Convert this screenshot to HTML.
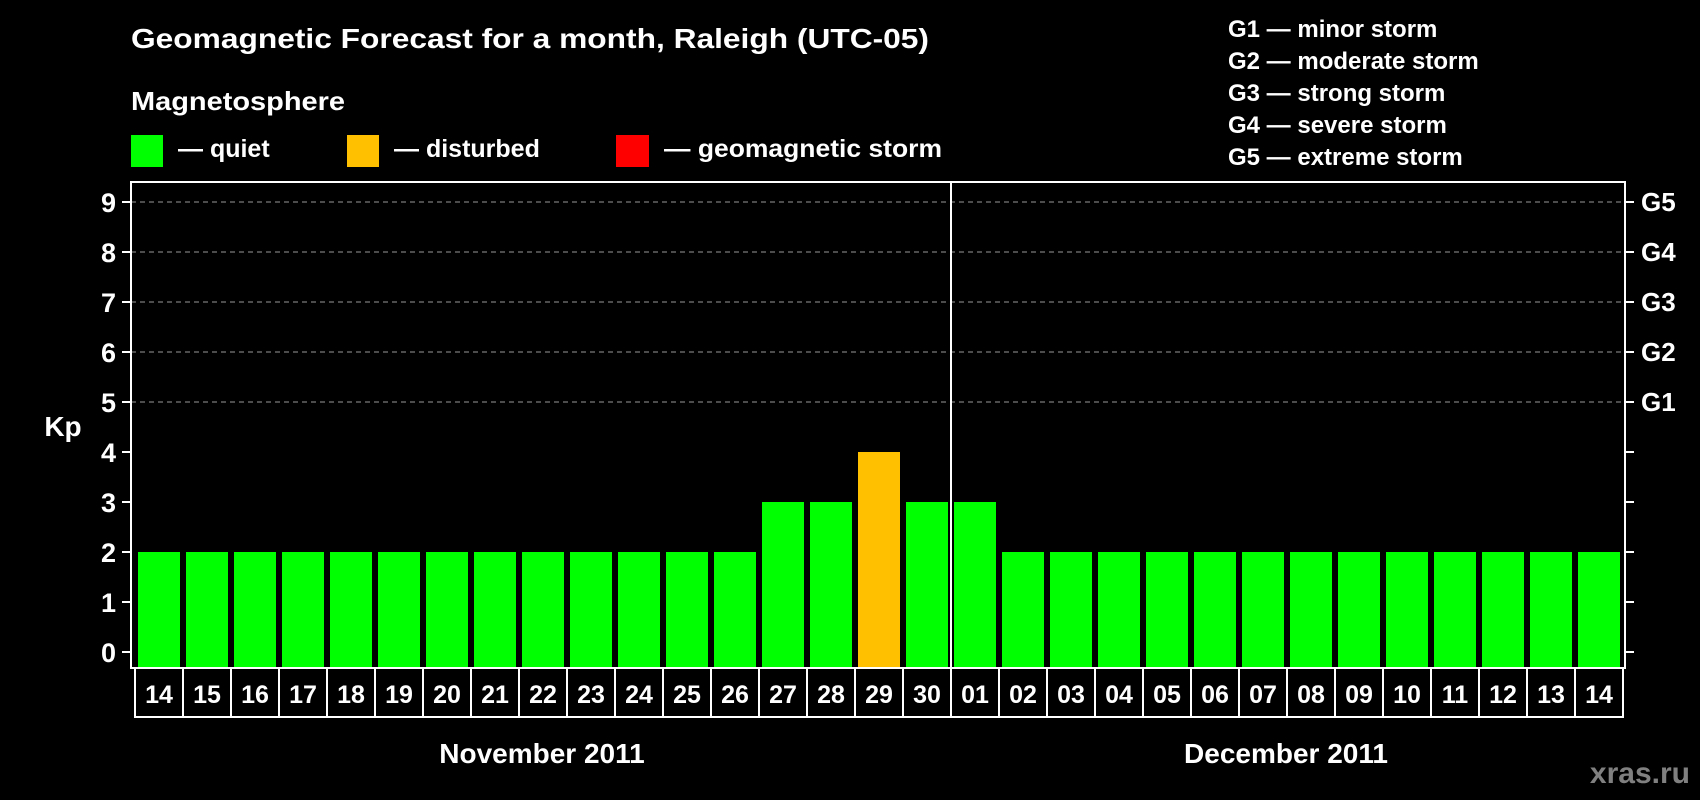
<!DOCTYPE html>
<html><head><meta charset="utf-8"><style>
html,body{margin:0;padding:0;background:#000;width:1700px;height:800px;overflow:hidden}
svg{display:block;font-family:"Liberation Sans",Arial,sans-serif;font-weight:bold}
</style></head><body>
<svg id="chart" width="1700" height="800" viewBox="0 0 1700 800">
<rect width="1700" height="800" fill="#000"/>
<text x="131" y="48" fill="#fff" font-size="28" textLength="798" lengthAdjust="spacingAndGlyphs">Geomagnetic Forecast for a month, Raleigh (UTC-05)</text>
<text x="131" y="110" fill="#fff" font-size="26" textLength="214" lengthAdjust="spacingAndGlyphs">Magnetosphere</text>
<g><rect x="131" y="135" width="32" height="32" fill="#00ff00"/><text x="178" y="157" fill="#fff" font-size="25">— quiet</text></g>
<g><rect x="347" y="135" width="32" height="32" fill="#ffc000"/><text x="394" y="157" fill="#fff" font-size="25">— disturbed</text></g>
<g><rect x="616" y="135" width="33" height="32" fill="#ff0000"/><text x="664" y="157" fill="#fff" font-size="25" textLength="278" lengthAdjust="spacingAndGlyphs">— geomagnetic storm</text></g>
<g fill="#fff" font-size="24">
<text x="1228" y="37">G1 — minor storm</text>
<text x="1228" y="69">G2 — moderate storm</text>
<text x="1228" y="101">G3 — strong storm</text>
<text x="1228" y="133">G4 — severe storm</text>
<text x="1228" y="165">G5 — extreme storm</text>
</g>
<text x="63" y="436" fill="#fff" font-size="28" text-anchor="middle">Kp</text>
<g id="grid"></g><g id="bars"></g><g id="axes"></g>
<text x="542" y="763" fill="#fff" font-size="28" text-anchor="middle">November 2011</text>
<text x="1286" y="763" fill="#fff" font-size="28" text-anchor="middle">December 2011</text>
<text x="1690" y="783" fill="#808080" font-size="30" text-anchor="end">xras.ru</text>
</svg>
<script>
const days = ["14","15","16","17","18","19","20","21","22","23","24","25","26","27","28","29","30","01","02","03","04","05","06","07","08","09","10","11","12","13","14"];
const kpValues = [2,2,2,2,2,2,2,2,2,2,2,2,2,3,3,4,3,3,2,2,2,2,2,2,2,2,2,2,2,2,2];
const yTicks = [0,1,2,3,4,5,6,7,8,9];
const gLabels = ["G1","G2","G3","G4","G5"];
const monthSplit = 17;

const NS="http://www.w3.org/2000/svg";
const L=131,R=1625,T=182,B=668,x0=135,pitch=48;
const y=v=>652-v*50;
const xs=i=>x0+i*pitch;
function mk(t,a,p){const e=document.createElementNS(NS,t);for(const k in a)e.setAttribute(k,a[k]);p.appendChild(e);return e;}
const grid=document.getElementById('grid'),bars=document.getElementById('bars'),axes=document.getElementById('axes');
yTicks.forEach(v=>{
  if(v>=5){const g=mk('line',{x1:L,x2:R,y1:y(v),y2:y(v),stroke:'#999','stroke-width':1,'stroke-dasharray':'5,4'},grid);
    
    }
  const t=mk('line',{x1:122,x2:L,y1:y(v),y2:y(v),stroke:'#fff','stroke-width':2},axes);
  
  
  const t2=mk('line',{x1:R,x2:1634,y1:y(v),y2:y(v),stroke:'#fff','stroke-width':2},axes);
  
  
  const lb=mk('text',{x:116,y:y(v)+10,fill:'#fff','font-size':27,'text-anchor':'end'},axes);lb.textContent=v;
  
  
});
gLabels.forEach((g,i)=>{
  const lb=mk('text',{x:1641,y:y(i+5)+9,fill:'#fff','font-size':26},axes);lb.textContent=g;
  
  
});
kpValues.forEach((v,i)=>{
  const col=v>=5?'#ff0000':(v>=4?'#ffc000':'#00ff00');
  const r=mk('rect',{x:xs(i)+3,y:y(v),width:42,height:B-y(v),fill:col},bars);
  
  
});
const fr=mk('rect',{x:L,y:T,width:R-L,height:B-T,fill:'none',stroke:'#fff','stroke-width':2},axes);


const ml=mk('line',{x1:xs(monthSplit),x2:xs(monthSplit),y1:T,y2:B,stroke:'#fff','stroke-width':2},axes);


const lr=mk('rect',{x:x0,y:B,width:pitch*days.length,height:49,fill:'none',stroke:'#fff','stroke-width':2},axes);


days.forEach((d,i)=>{
  if(i>0){const s=mk('line',{x1:xs(i),x2:xs(i),y1:B,y2:B+49,stroke:'#fff','stroke-width':2},axes);
    
    }
  const t=mk('text',{x:xs(i)+24,y:B+35,fill:'#fff','font-size':25,'text-anchor':'middle'},axes);t.textContent=d;
  
  
});
</script>
</body></html>
